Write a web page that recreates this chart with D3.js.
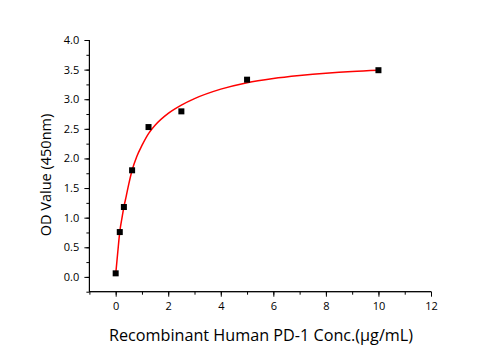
<!DOCTYPE html>
<html><head><meta charset="utf-8">
<script src="https://d3js.org/d3.v7.min.js"></script>
<style>body{margin:0;background:#fff}</style>
</head><body>
<script>
const concX = [0, 0.156, 0.3125, 0.625, 1.25, 2.5, 5, 10];
const odY = [0.06, 0.757, 1.18, 1.80, 2.53, 2.795, 3.33, 3.49];
const fitX = [0, 0.08, 0.156, 0.25, 0.3125, 0.4, 0.5, 0.625, 0.8, 1.0, 1.25, 1.5, 2.0, 2.5, 3.0, 4.0, 5.0, 6.0, 7.0, 8.0, 9.0, 10.0];
const fitY = [0.04, 0.42, 0.76, 1.02, 1.18, 1.36, 1.57, 1.80, 2.03, 2.22, 2.42, 2.56, 2.76, 2.90, 3.01, 3.17, 3.28, 3.35, 3.40, 3.44, 3.47, 3.49];
const xTicks = [0, 2, 4, 6, 8, 10, 12];
const yTicks = [0.0, 0.5, 1.0, 1.5, 2.0, 2.5, 3.0, 3.5, 4.0];
const xLabel = "Recombinant Human PD-1 Conc.(\u00b5g/mL)";
const yLabel = "OD Value (450nm)";

const W = 501, H = 350;
const svg = d3.select("body").append("svg").attr("width", W).attr("height", H);
const x = d3.scaleLinear().domain([-1, 12]).range([89.4, 431]);
const y = d3.scaleLinear().domain([-0.25, 4.0]).range([291.7, 40]);
const font = "'Open Sans', sans-serif";

// x axis
const xa = svg.append("g").attr("transform", `translate(0,${y(-0.25)})`);
xa.call(d3.axisBottom(x).tickValues(d3.range(-1, 13, 1)).tickSize(3).tickFormat(""));
xa.append("g").call(d3.axisBottom(x).tickValues(xTicks).tickSize(5).tickFormat(d3.format("d")));
xa.selectAll(".domain").attr("stroke", "#000").attr("d", `M${x(-1)},0H${x(12)}`);
xa.selectAll("line").attr("stroke", "#000");
xa.selectAll("text").attr("font-family", font).attr("font-size", 11).attr("fill", "#000").attr("dy", "0.95em");

// y axis
const ya = svg.append("g").attr("transform", `translate(${x(-1)},0)`);
ya.call(d3.axisLeft(y).tickValues(d3.range(-0.25, 4.01, 0.25)).tickSize(3).tickFormat(""));
ya.append("g").call(d3.axisLeft(y).tickValues(yTicks).tickSize(5).tickFormat(d3.format(".1f")));
ya.selectAll(".domain").attr("stroke", "#000").attr("d", `M0,${y(-0.25)}V${y(4.0)}`);
ya.selectAll("line").attr("stroke", "#000");
ya.selectAll("text").attr("font-family", font).attr("font-size", 11).attr("fill", "#000").attr("dx", "-0.2em");

// fit curve
const fit = fitX.map((v, i) => [v, fitY[i]]);
svg.append("path").datum(fit)
  .attr("fill", "none").attr("stroke", "#ff0000").attr("stroke-width", 1.5)
  .attr("d", d3.line().x(d => x(d[0])).y(d => y(d[1])).curve(d3.curveMonotoneX));

// points
const pts = concX.map((v, i) => [v, odY[i]]);
svg.selectAll("rect.pt").data(pts).enter().append("rect")
  .attr("class", "pt")
  .attr("x", d => x(d[0]) - 3).attr("y", d => y(d[1]) - 3)
  .attr("width", 6).attr("height", 6).attr("fill", "#000");

// titles
svg.append("text").attr("x", 261).attr("y", 341)
  .attr("text-anchor", "middle").attr("font-family", font).attr("font-size", 16.2).attr("fill", "#000")
  .text(xLabel);
svg.append("text").attr("transform", `translate(51,175) rotate(-90)`)
  .attr("text-anchor", "middle").attr("font-family", font).attr("font-size", 14.5).attr("fill", "#000")
  .text(yLabel);
</script>
</body></html>
